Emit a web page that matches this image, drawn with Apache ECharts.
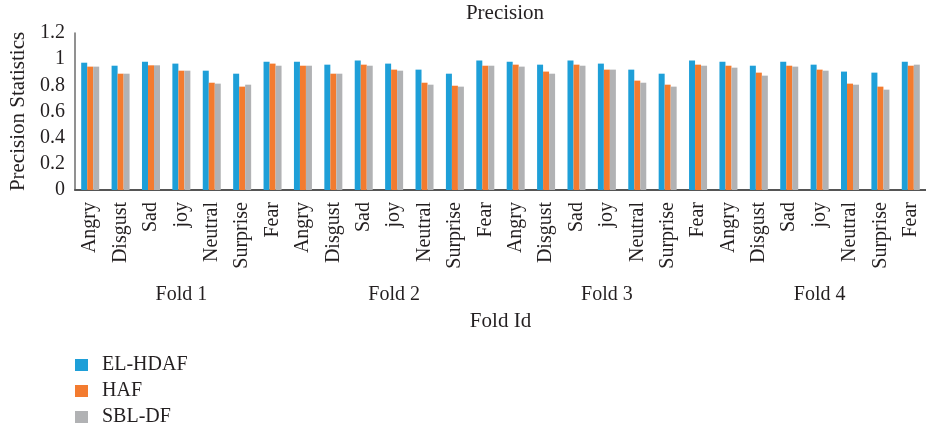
<!DOCTYPE html>
<html>
<head>
<meta charset="utf-8">
<script src="https://cdn.jsdelivr.net/npm/echarts@6/dist/echarts.min.js"></script>
<style>
  html, body { margin: 0; padding: 0; background: #fff; }
  #chart { width: 926px; height: 429px; }
</style>
</head>
<body>
<div id="chart"></div>
<script>
// Emotion classes repeated for each cross-validation fold
const emotions = ['Angry', 'Disgust', 'Sad', 'joy', 'Neutral', 'Surprise', 'Fear'];
const folds = ['Fold 1', 'Fold 2', 'Fold 3', 'Fold 4'];
const seriesNames = ['EL-HDAF', 'HAF', 'SBL-DF'];
const yTicks = { min: 0, max: 1.2, interval: 0.2 };

// Precision per fold / emotion
const elHdaf = [
  0.973, 0.950, 0.981, 0.966, 0.912, 0.889, 0.981,
  0.981, 0.958, 0.989, 0.966, 0.920, 0.889, 0.989,
  0.981, 0.958, 0.989, 0.966, 0.920, 0.889, 0.989,
  0.981, 0.950, 0.981, 0.958, 0.905, 0.897, 0.981
];
const haf = [
  0.943, 0.889, 0.953, 0.912, 0.820, 0.790, 0.966,
  0.950, 0.889, 0.958, 0.920, 0.820, 0.797, 0.950,
  0.958, 0.905, 0.958, 0.920, 0.836, 0.805, 0.958,
  0.950, 0.897, 0.950, 0.920, 0.813, 0.790, 0.950
];
const sblDf = [
  0.943, 0.889, 0.953, 0.912, 0.813, 0.805, 0.950,
  0.950, 0.889, 0.950, 0.912, 0.805, 0.790, 0.950,
  0.943, 0.889, 0.950, 0.920, 0.820, 0.790, 0.950,
  0.935, 0.874, 0.943, 0.912, 0.805, 0.767, 0.958
];

const categories = [];
folds.forEach(() => emotions.forEach(e => categories.push(e)));

const colors = ['#1E9FD8', '#F37B2F', '#B1B2B4'];
const serif = '"Liberation Serif", "DejaVu Serif", serif';
const textColor = '#231F20';

const chart = echarts.init(document.getElementById('chart'), null, { renderer: 'canvas' });

const seriesData = [elHdaf, haf, sblDf];

chart.setOption({
  animation: false,
  color: colors,
  title: {
    text: 'Precision',
    left: 505,
    textAlign: 'center',
    top: 3,
    padding: 0,
    textStyle: { fontFamily: serif, fontSize: 21, fontWeight: 'normal', color: textColor }
  },
  legend: {
    orient: 'vertical',
    left: 75,
    top: 355,
    padding: 0,
    icon: 'rect',
    itemWidth: 13,
    itemHeight: 12,
    itemGap: 6,
    data: seriesNames,
    textStyle: { fontFamily: serif, fontSize: 20, lineHeight: 20, color: textColor, padding: [0, 0, 0, 9] }
  },
  grid: { left: 75, right: -10, top: 33, bottom: 239, containLabel: false },
  xAxis: [
    {
      type: 'category',
      data: categories,
      axisLine: { lineStyle: { color: '#555', width: 2 } },
      axisTick: { show: false },
      axisLabel: {
        interval: 0,
        rotate: 90,
        margin: 12,
        fontFamily: serif,
        fontSize: 20,
        color: textColor
      },
      name: 'Fold Id',
      nameLocation: 'middle',
      nameGap: 121,
      nameTextStyle: { fontFamily: serif, fontSize: 21, color: textColor }
    },
    {
      type: 'category',
      data: folds,
      position: 'bottom',
      axisLine: { show: false },
      axisTick: { show: false },
      axisLabel: {
        interval: 0,
        margin: 95,
        fontFamily: serif,
        fontSize: 20,
        color: textColor
      }
    }
  ],
  yAxis: {
    type: 'value',
    min: yTicks.min,
    max: yTicks.max,
    interval: yTicks.interval,
    splitLine: { show: false },
    axisTick: { show: false },
    axisLine: { show: true, lineStyle: { color: '#6d6d6d', width: 1.5 } },
    axisLabel: { fontFamily: serif, fontSize: 20, color: textColor, margin: 10 },
    name: 'Precision Statistics',
    nameLocation: 'middle',
    nameGap: 46,
    nameTextStyle: { fontFamily: serif, fontSize: 21, color: textColor }
  },
  series: seriesNames.map((name, i) => ({
    name: name,
    type: 'bar',
    xAxisIndex: 0,
    data: seriesData[i],
    barWidth: 6,
    barGap: '0%'
  }))
});
</script>
</body>
</html>
